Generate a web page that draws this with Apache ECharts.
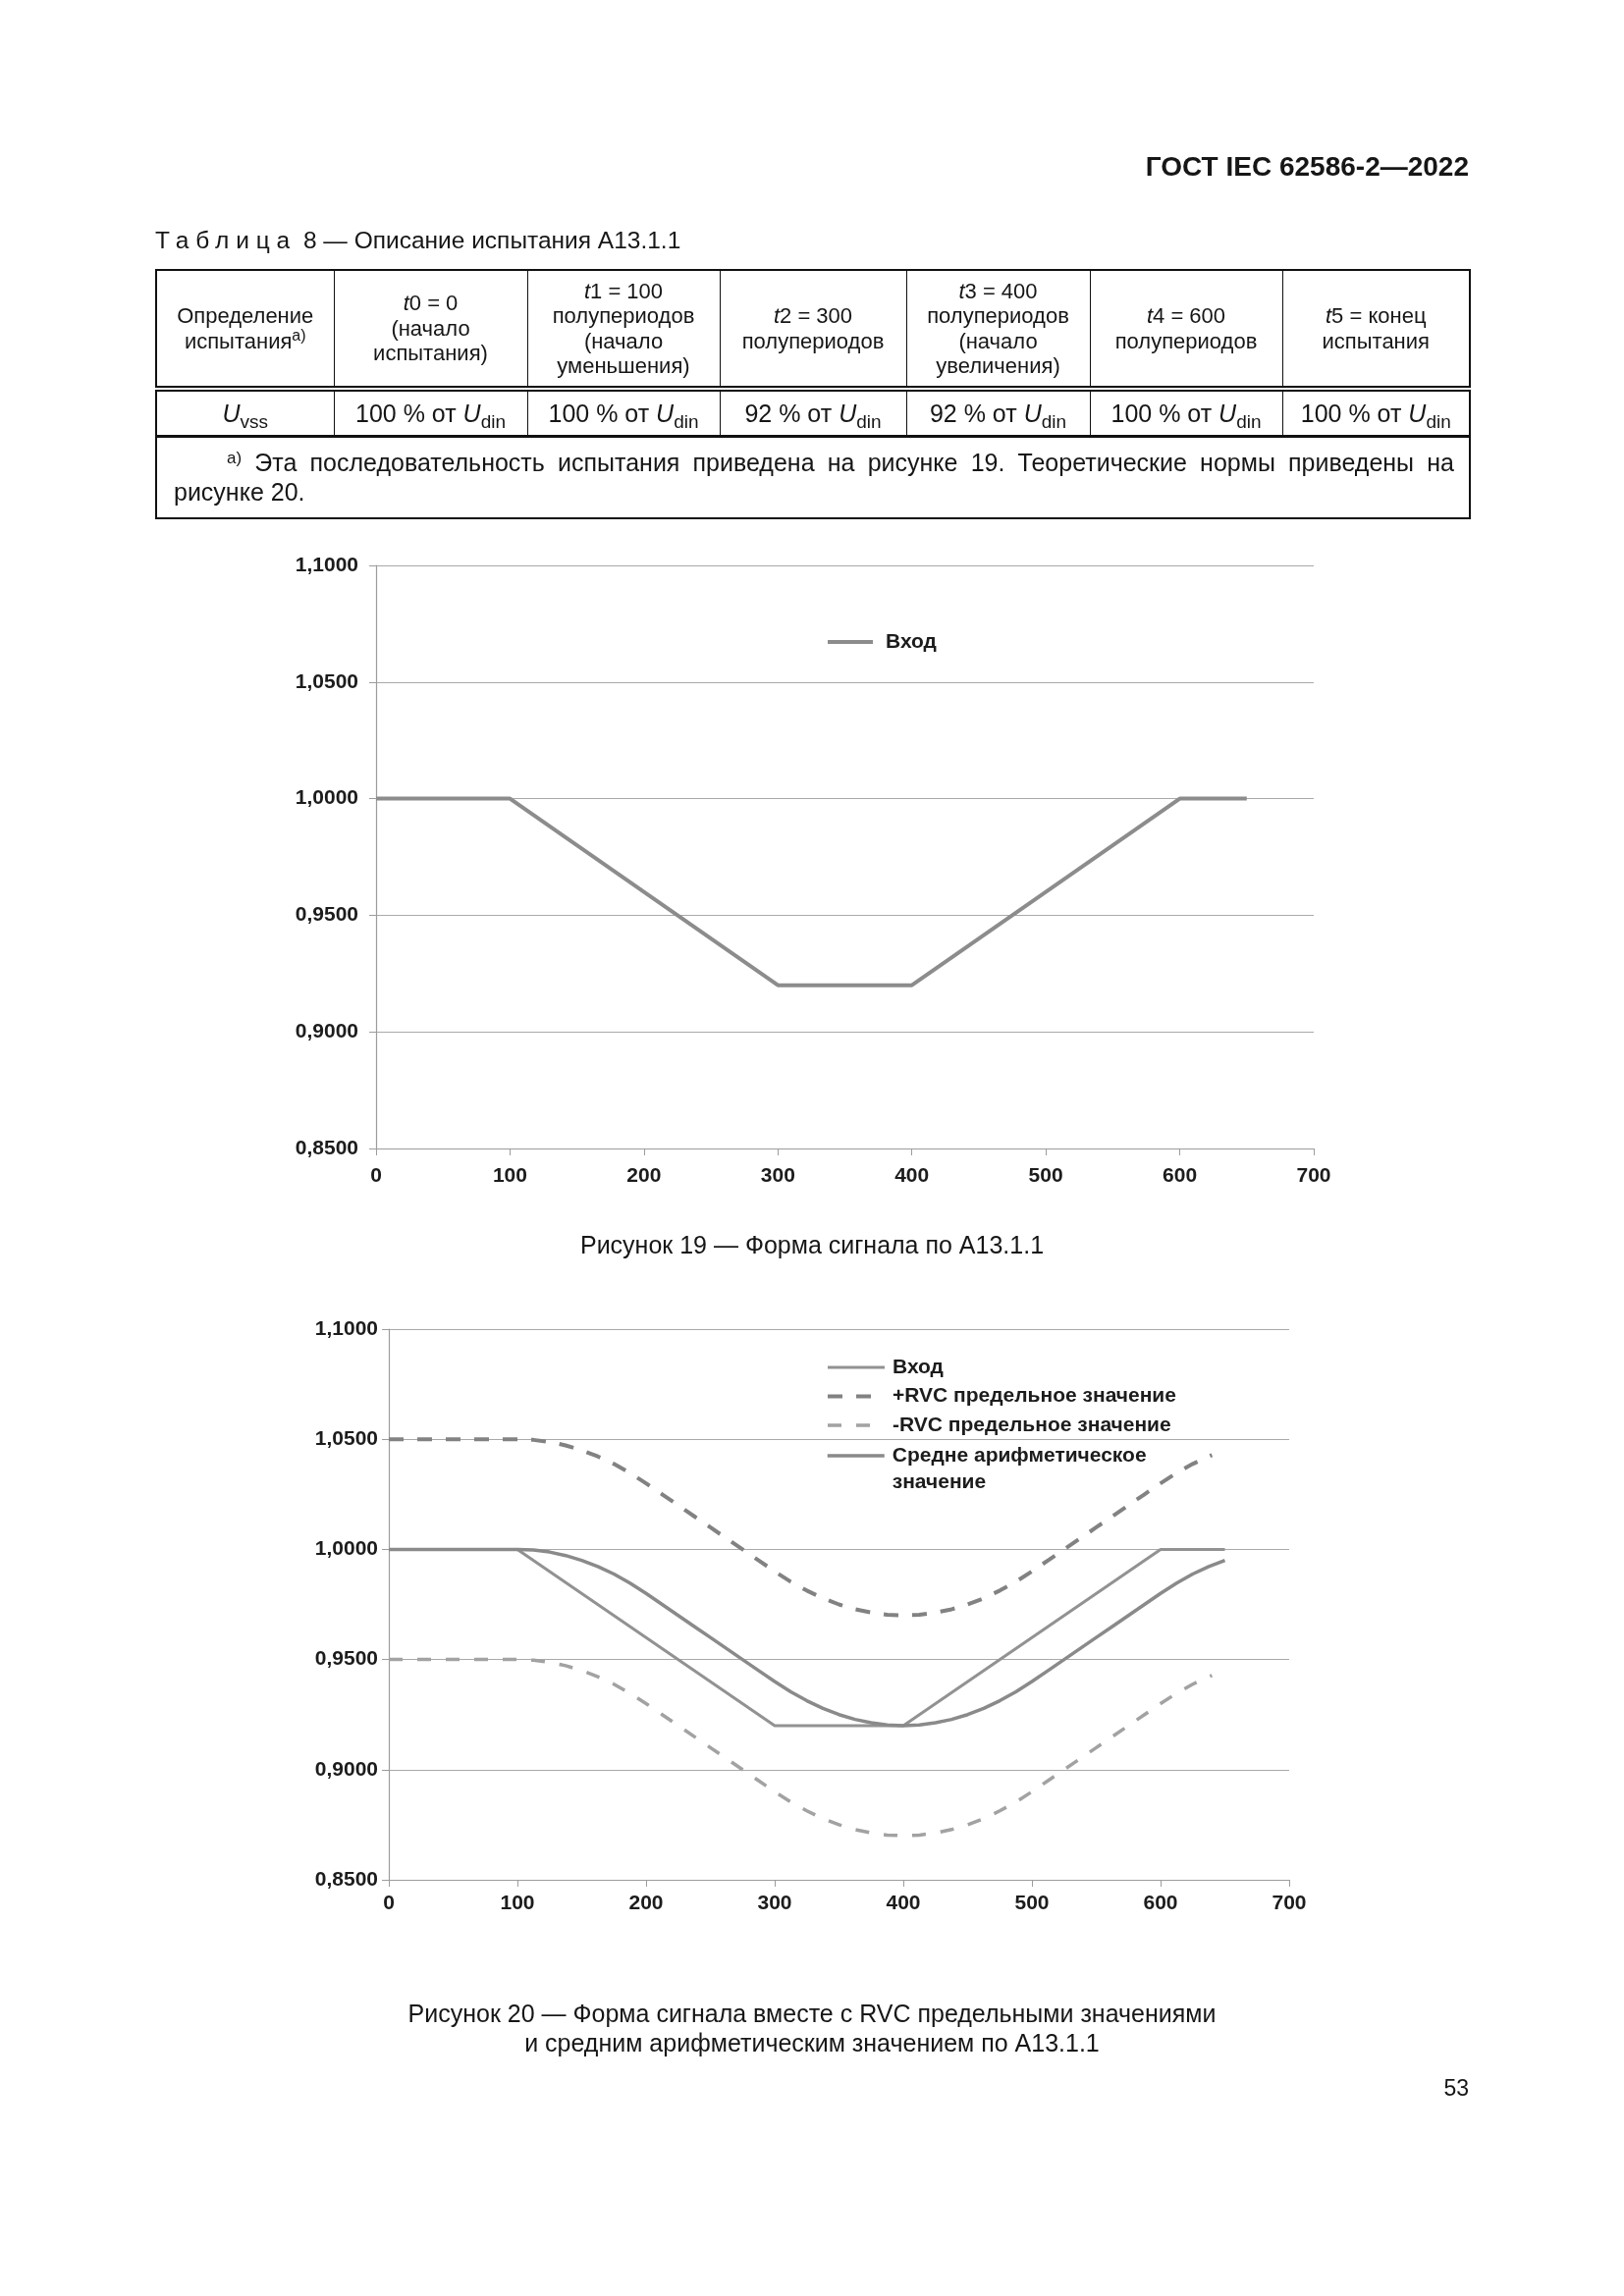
<!DOCTYPE html>
<html><head><meta charset="utf-8">
<script src="https://cdn.jsdelivr.net/npm/echarts@6/dist/echarts.min.js"></script>
<style>
html,body{margin:0;padding:0;background:#fff;}
body{width:1654px;height:2339px;position:relative;overflow:hidden;font-family:"Liberation Sans",Arial,sans-serif;color:#161616;}
#chart{position:absolute;left:0;top:0;width:1654px;height:2339px;}
.abs{position:absolute;}
#hdr{right:158px;top:154px;font-weight:bold;font-size:28px;line-height:32px;}
#tcap{left:158px;top:231px;font-size:24.5px;line-height:28px;white-space:nowrap;}
#tcap .sp{letter-spacing:0.28em;}
table{position:absolute;left:158px;top:274px;border-collapse:collapse;table-layout:fixed;width:1338px;border:2px solid #111;}
td{border:1.5px solid #111;text-align:center;vertical-align:middle;padding:0;}
tr.h td{height:117px;border-bottom:6px double #111;font-size:22px;line-height:25.4px;}
tr.d td{height:44px;border-bottom:3px solid #111;font-size:25px;line-height:28px;}
tr.f td{height:71px;text-align:left;font-size:25px;line-height:30px;padding:10px 15px 0 17px;vertical-align:top;}
.l1{white-space:nowrap;text-align:justify;text-align-last:justify;text-indent:54px;}
sub{font-size:19px;vertical-align:-6px;line-height:0;}
sup{font-size:17px;vertical-align:8px;line-height:0;}
tr.h sup{font-size:16px;}
.cap{left:158px;width:1338px;text-align:center;font-size:25px;line-height:30px;}
#pg{right:158px;top:2113px;font-size:23px;line-height:28px;}
</style>
</head><body>
<div id="chart"></div>
<div id="hdr" class="abs">ГОСТ IEC 62586-2—2022</div>
<div id="tcap" class="abs"><span class="sp">Таблица</span> 8 — Описание испытания А13.1.1</div>
<table>
<colgroup><col style="width:181px"><col style="width:197px"><col style="width:196px"><col style="width:190px"><col style="width:187px"><col style="width:196px"><col style="width:191px"></colgroup>
<tr class="h">
<td>Определение<br>испытания<sup>a)</sup></td>
<td><i>t</i>0 = 0<br>(начало<br>испытания)</td>
<td><i>t</i>1 = 100<br>полупериодов<br>(начало<br>уменьшения)</td>
<td><i>t</i>2 = 300<br>полупериодов</td>
<td><i>t</i>3 = 400<br>полупериодов<br>(начало<br>увеличения)</td>
<td><i>t</i>4 = 600<br>полупериодов</td>
<td><i>t</i>5 = конец<br>испытания</td>
</tr>
<tr class="d">
<td><i>U</i><sub>vss</sub></td>
<td>100 % от <i>U</i><sub>din</sub></td>
<td>100 % от <i>U</i><sub>din</sub></td>
<td>92 % от <i>U</i><sub>din</sub></td>
<td>92 % от <i>U</i><sub>din</sub></td>
<td>100 % от <i>U</i><sub>din</sub></td>
<td>100 % от <i>U</i><sub>din</sub></td>
</tr>
<tr class="f"><td colspan="7">
<div class="l1"><sup>а)</sup> Эта последовательность испытания приведена на рисунке 19. Теоретические нормы приведены на</div>
<div>рисунке 20.</div>
</td></tr>
</table>
<div class="abs cap" style="top:1253px;">Рисунок 19 — Форма сигнала по А13.1.1</div>
<div class="abs cap" style="top:2036px;">Рисунок 20 — Форма сигнала вместе с RVC предельными значениями<br>и средним арифметическим значением по А13.1.1</div>
<div id="pg" class="abs">53</div>
<script>
// ---- Figure 19 data ----
const fig19X = [0, 100, 300, 400, 600, 650];
const fig19Input = [1.0, 1.0, 0.92, 0.92, 1.0, 1.0];

// ---- Figure 20 data ----
const fig20InputX = [0, 100, 300, 400, 600, 650];
const fig20Input = [1.0, 1.0, 0.92, 0.92, 1.0, 1.0];
const meanX = [0, 12.5, 25, 37.5, 50, 62.5, 75, 87.5, 100, 112.5, 125, 137.5, 150, 162.5, 175, 187.5, 200,
  212.5, 225, 237.5, 250, 262.5, 275, 287.5, 300, 312.5, 325, 337.5, 350, 362.5, 375, 387.5, 400,
  412.5, 425, 437.5, 450, 462.5, 475, 487.5, 500, 512.5, 525, 537.5, 550, 562.5, 575, 587.5, 600,
  612.5, 625, 637.5, 650];
const meanVal = [1.0, 1.0, 1.0, 1.0, 1.0, 1.0, 1.0, 1.0, 1.0, 0.9997, 0.9988, 0.9972, 0.995, 0.9922, 0.9888, 0.9847, 0.98,
  0.975, 0.97, 0.965, 0.96, 0.955, 0.95, 0.945, 0.94, 0.9353, 0.9313, 0.9278, 0.925, 0.9228, 0.9213, 0.9203, 0.92,
  0.9203, 0.9213, 0.9228, 0.925, 0.9278, 0.9313, 0.9353, 0.94, 0.945, 0.95, 0.955, 0.96, 0.965, 0.97, 0.975, 0.98,
  0.9847, 0.9888, 0.9922, 0.995];
const limX = [0, 12.5, 25, 37.5, 50, 62.5, 75, 87.5, 100, 112.5, 125, 137.5, 150, 162.5, 175, 187.5, 200,
  212.5, 225, 237.5, 250, 262.5, 275, 287.5, 300, 312.5, 325, 337.5, 350, 362.5, 375, 387.5, 400,
  412.5, 425, 437.5, 450, 462.5, 475, 487.5, 500, 512.5, 525, 537.5, 550, 562.5, 575, 587.5, 600,
  612.5, 625, 637.5, 640];
const plusRVC = [1.05, 1.05, 1.05, 1.05, 1.05, 1.05, 1.05, 1.05, 1.05, 1.0497, 1.0488, 1.0472, 1.045, 1.0422, 1.0388, 1.0347, 1.03,
  1.025, 1.02, 1.015, 1.01, 1.005, 1.0, 0.995, 0.99, 0.9853, 0.9813, 0.9778, 0.975, 0.9728, 0.9713, 0.9703, 0.97,
  0.9703, 0.9713, 0.9728, 0.975, 0.9778, 0.9813, 0.9853, 0.99, 0.995, 1.0, 1.005, 1.01, 1.015, 1.02, 1.025, 1.03,
  1.0347, 1.0388, 1.0422, 1.0428];
const minusRVC = [0.95, 0.95, 0.95, 0.95, 0.95, 0.95, 0.95, 0.95, 0.95, 0.9497, 0.9488, 0.9472, 0.945, 0.9422, 0.9388, 0.9347, 0.93,
  0.925, 0.92, 0.915, 0.91, 0.905, 0.9, 0.895, 0.89, 0.8853, 0.8813, 0.8778, 0.875, 0.8728, 0.8713, 0.8703, 0.87,
  0.8703, 0.8713, 0.8728, 0.875, 0.8778, 0.8813, 0.8853, 0.89, 0.895, 0.9, 0.905, 0.91, 0.915, 0.92, 0.925, 0.93,
  0.9347, 0.9388, 0.9422, 0.9428];

// ---- Axes ----
const xMin = 0, xMax = 700, xStep = 100;
const yMin = 0.85, yMax = 1.1, yStep = 0.05;

const pairs = (xs, ys) => xs.map((x, i) => [x, ys[i]]);
const yFmt = v => v.toFixed(4).replace('.', ',');
const FONT = '"Liberation Sans", Arial, sans-serif';
const axisGray = '#9c9c9c';
const gridGray = '#a9a9a9';
const labelColor = '#1c1c1c';

// line styles (shared by series and their legend icons)
const lsIn19 = {color: '#8c8c8c', width: 4, type: 'solid'};
const lsIn20 = {color: '#929292', width: 3, type: 'solid'};
const lsPlus = {color: '#828282', width: 4, type: [15, 14]};
const lsMinus = {color: '#a2a2a2', width: 3.5, type: [14, 15]};
const lsMean = {color: '#8a8a8a', width: 3.5, type: 'solid'};

function xAx(gi, margin) {
  return {
    gridIndex: gi, type: 'value', min: xMin, max: xMax, interval: xStep,
    axisLine: {show: true, onZero: false, lineStyle: {color: axisGray, width: 1.2}},
    axisTick: {show: true, length: 7, lineStyle: {color: axisGray}},
    axisLabel: {margin: margin, fontSize: 21, fontWeight: 'bold', color: labelColor, fontFamily: FONT},
    splitLine: {show: false}
  };
}
function yAx(gi, margin) {
  return {
    gridIndex: gi, type: 'value', min: yMin, max: yMax, interval: yStep,
    axisLine: {show: true, onZero: false, lineStyle: {color: axisGray, width: 1.2}},
    axisTick: {show: true, length: 7, lineStyle: {color: axisGray}},
    axisLabel: {margin: margin, fontSize: 21, fontWeight: 'bold', color: labelColor, fontFamily: FONT, formatter: yFmt},
    splitLine: {show: true, lineStyle: {color: gridGray, width: 1.2}}
  };
}
const legText = {fontSize: 21, fontWeight: 'bold', color: labelColor, fontFamily: FONT, lineHeight: 22};
const noSym = {opacity: 0, borderWidth: 0};

const option = {
  animation: false,
  textStyle: {fontFamily: FONT},
  grid: [
    {left: 383, top: 576, width: 955, height: 594},
    {left: 396, top: 1354, width: 917, height: 561}
  ],
  xAxis: [xAx(0, 18), xAx(1, 14)],
  yAxis: [yAx(0, 18), yAx(1, 11)],
  legend: [
    {left: 841, top: 643, orient: 'vertical', padding: 0, selectedMode: false, itemWidth: 46, itemHeight: 14,
     itemStyle: noSym,
     data: [{name: 'Вход', lineStyle: lsIn19}],
     textStyle: Object.assign({}, legText, {padding: [0, 0, 0, 8]})},
    {left: 841, top: 1382, orient: 'vertical', padding: 0, selectedMode: false, itemGap: 7.5, itemWidth: 58, itemHeight: 14,
     itemStyle: noSym,
     data: [
       {name: 'Вход ', lineStyle: lsIn20},
       {name: '+RVC предельное значение', lineStyle: lsPlus},
       {name: '-RVC предельное значение', lineStyle: lsMinus}
     ],
     textStyle: Object.assign({}, legText, {padding: [0, 0, 0, 3]})},
    {left: 841, top: 1442.5, orient: 'vertical', padding: 0, selectedMode: false, itemWidth: 58, itemHeight: 14,
     itemStyle: noSym,
     data: [{name: 'Средне арифметическое\nзначение', lineStyle: lsMean}],
     formatter: name => '{p| }\n{a|' + name.split('\n').join('}\n{a|') + '}',
     textStyle: Object.assign({}, legText, {
       rich: {
         p: {fontSize: 21, lineHeight: 27, padding: [0, 0, 0, 3]},
         a: {fontSize: 21, fontWeight: 'bold', color: labelColor, fontFamily: FONT, lineHeight: 27, padding: [0, 0, 0, 3]}
       }
     })}
  ],
  series: [
    {name: 'Вход', type: 'line', xAxisIndex: 0, yAxisIndex: 0, symbol: 'none', data: pairs(fig19X, fig19Input),
     lineStyle: lsIn19, itemStyle: {color: lsIn19.color}},
    {name: 'Вход ', type: 'line', xAxisIndex: 1, yAxisIndex: 1, symbol: 'none', data: pairs(fig20InputX, fig20Input),
     lineStyle: lsIn20, itemStyle: {color: lsIn20.color}},
    {name: '+RVC предельное значение', type: 'line', xAxisIndex: 1, yAxisIndex: 1, symbol: 'none', data: pairs(limX, plusRVC),
     lineStyle: lsPlus, itemStyle: {color: lsPlus.color}},
    {name: '-RVC предельное значение', type: 'line', xAxisIndex: 1, yAxisIndex: 1, symbol: 'none', data: pairs(limX, minusRVC),
     lineStyle: lsMinus, itemStyle: {color: lsMinus.color}},
    {name: 'Средне арифметическое\nзначение', type: 'line', xAxisIndex: 1, yAxisIndex: 1, symbol: 'none', data: pairs(meanX, meanVal),
     lineStyle: lsMean, itemStyle: {color: lsMean.color}}
  ]
};
const chart = echarts.init(document.getElementById('chart'), null, {renderer: 'canvas'});
chart.setOption(option);
</script>
</body></html>
